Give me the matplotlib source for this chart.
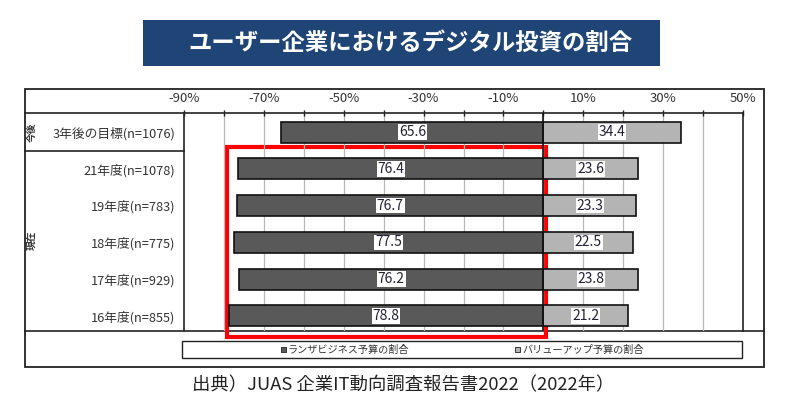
import matplotlib
matplotlib.use('Agg')
import matplotlib.pyplot as plt
from matplotlib.patches import Rectangle
import numpy as np

plt.rcParams['font.family'] = ['Noto Sans CJK JP', 'DejaVu Sans']

# data
row_labels = ['3年後の目標(n=1076)', '21年度(n=1078)', '19年度(n=783)',
              '18年度(n=775)', '17年度(n=929)', '16年度(n=855)']
run_share = [65.6, 76.4, 76.7, 77.5, 76.2, 78.8]
value_up_share = [34.4, 23.6, 23.3, 22.5, 23.8, 21.2]
tick_values = [-90, -70, -50, -30, -10, 10, 30, 50]
tick_labels = ['-90%', '-70%', '-50%', '-30%', '-10%', '10%', '30%', '50%']
legend_labels = ['ランザビジネス予算の割合', 'バリューアップ予算の割合']
title = 'ユーザー企業におけるデジタル投資の割合'
source = '出典）JUAS 企業IT動向調査報告書2022（2022年）'

dark = '#595959'
light = '#b4b4b4'
W, H = 800, 411

fig = plt.figure(figsize=(W / 100, H / 100), dpi=100)

# background axes in pixel coords for frames / title / legend
bg = fig.add_axes([0, 0, 1, 1])
bg.set_xlim(0, W)
bg.set_ylim(H, 0)
bg.axis('off')

# title box
bg.add_patch(Rectangle((143, 20), 517, 46, facecolor='#1f4577', edgecolor='none'))
bg.text(410, 43, title, color='white', fontsize=16.8, fontweight='bold',
        ha='center', va='center')

# outer frame and separators
bg.add_patch(Rectangle((25, 89), 739, 278, facecolor='none', edgecolor='#222222', lw=1.3))
bg.plot([25, 743], [113, 113], color='#222222', lw=1.2)
bg.plot([25, 764], [331, 331], color='#222222', lw=1.2)
bg.plot([25, 184], [151, 151], color='#222222', lw=1.2)
bg.plot([184, 184], [113, 331], color='#222222', lw=1.2)
bg.plot([743, 743], [113, 331], color='#222222', lw=1.2)

# group labels
bg.text(32, 132, '今後', rotation=90, fontsize=7, fontweight='bold',
        ha='center', va='center', color='#333333')
bg.text(32, 240, '現在', rotation=90, fontsize=7, fontweight='bold',
        ha='center', va='center', color='#333333')

# legend box
bg.add_patch(Rectangle((182, 341), 560, 17, facecolor='white', edgecolor='#222222', lw=1.0))
for lx, lab, col in zip([281, 515], legend_labels, [dark, light]):
    bg.add_patch(Rectangle((lx, 346.5), 5, 5, facecolor=col, edgecolor='#222222', lw=0.6))
    bg.text(lx + 7, 349.5, lab, fontsize=7.3, ha='left', va='center', color='#333333')

# source line
bg.text(403, 385, source, fontsize=13.2, ha='center', va='center', color='#222222')

# data axes: x from -90 (px 184) to 50 (px 743), y from px 113 to 331
ax = fig.add_axes([184 / W, 1 - 331 / H, (743 - 184) / W, (331 - 113) / H])
ax.set_facecolor('none')
y = np.arange(len(row_labels))
run_arr = np.array(run_share)
up_arr = np.array(value_up_share)

for gx in range(-80, 50, 10):
    ax.axvline(gx, color='#b8b8b8', lw=0.9, zorder=0)

ax.barh(y, -run_arr, height=0.57, color=dark, edgecolor='#111111', lw=1.2, zorder=2)
ax.barh(y, up_arr, height=0.57, color=light, edgecolor='#111111', lw=1.2, zorder=2)
ax.axvline(0, color='#111111', lw=1.2, zorder=3)

for yi, r, u in zip(y, run_arr, up_arr):
    ax.text(-r / 2, yi, f'{r:.1f}', ha='center', va='center', fontsize=10,
            color='#222233', zorder=4,
            bbox=dict(facecolor='white', edgecolor='none', pad=0.6))
    ax.text(u / 2, yi, f'{u:.1f}', ha='center', va='center', fontsize=10,
            color='#222233', zorder=4,
            bbox=dict(facecolor='white', edgecolor='none', pad=0.6))

ax.set_xlim(-90, 50)
ax.set_ylim(5.41, -0.52)

ax.xaxis.tick_top()
ax.set_xticks(tick_values)
ax.set_xticklabels(tick_labels, fontsize=9.5, color='#333333')
ax.set_xticks(np.arange(-80, 50, 20), minor=True)
ax.tick_params(axis='x', which='both', direction='inout', length=5, width=1,
               color='#222222', pad=3)
ax.set_yticks(y)
ax.set_yticklabels(row_labels, fontsize=9.2, color='#333333')
ax.tick_params(axis='y', length=0, pad=6.5)
for s in ax.spines.values():
    s.set_visible(False)

# red highlight box around the current-year rows
bg.add_patch(Rectangle((227, 147), 319, 190, facecolor='none', edgecolor='#ff0000',
                       lw=3, zorder=10))

fig.savefig('out.png', dpi=100)
